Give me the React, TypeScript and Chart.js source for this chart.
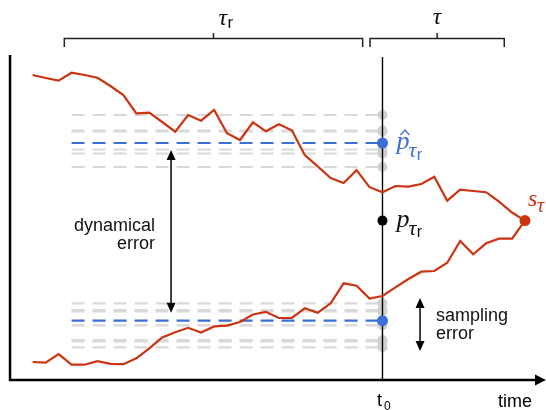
import React, { useEffect, useRef } from "react";
import { Chart, registerables } from "chart.js";
Chart.register(...registerables);

// time steps are the array index (0..38); values measured from the time axis
const upperPath = [305, 302, 299.3, 307.3, 305, 302.3, 294, 285, 266.7, 267.3, 258, 248.3, 265, 259.3, 270, 246.7, 240, 257.7, 248.7, 255.7, 249.7, 225, 213.7, 202, 197, 209.8, 192.8, 187.7, 194, 193.3, 196, 203.3, 179.3, 190.3, 189, 187.8, 178.3, 167.5, 159.4];
const lowerPath = [18, 17.3, 25.8, 15.3, 15.3, 18.8, 16.2, 15.8, 21.7, 31.7, 42.5, 47.7, 52.2, 47.5, 53.6, 54.4, 58, 65.5, 68.2, 62, 62, 71.7, 67.3, 76.7, 96.7, 94.3, 81.5, 84, 92.7, 101, 108.3, 109, 117.3, 139, 125.7, 136.7, 141.3, 141.3, 159.4];
const upperSamples = [265, 249.5, 248.5, 230.5, 226.5, 213];
const lowerSamples = [76.7, 70, 68.5, 54.7, 40, 38.5, 32.7];
const pHatUpper = 237;
const pHatLower = 59.3;
const pTrue = 159.4;
const sampleStart = 3;
const t0 = 27;
const tEnd = 38;
const axisT = -1.75;
const axisTop = 325;

const RED = "#cc3311";
const BLUE = "#3b6fd6";
const GREY_LINE = "#d9d9d9";
const GREY_DOT = "#d0d0d0";

function seg(t1: number, v1: number, t2: number, v2: number) {
  return [{ x: t1, y: v1 }, { x: t2, y: v2 }];
}

const decorPlugin = {
  id: "decor",
  afterDraw(chart: any) {
    const ctx = chart.ctx as CanvasRenderingContext2D;
    const xs = chart.scales.x;
    const ys = chart.scales.y;
    const X = (t: number) => xs.getPixelForValue(t);
    const Y = (v: number) => ys.getPixelForValue(v);
    ctx.save();
    // axes
    ctx.strokeStyle = "#000";
    ctx.fillStyle = "#000";
    ctx.lineWidth = 2.5;
    ctx.lineCap = "butt";
    const ax = X(axisT);
    const ay = Y(0);
    ctx.beginPath();
    ctx.moveTo(ax, Y(axisTop));
    ctx.lineTo(ax, ay + 1.25);
    ctx.moveTo(ax - 1.25, ay);
    ctx.lineTo(537, ay);
    ctx.stroke();
    ctx.beginPath();
    ctx.moveTo(546, ay);
    ctx.lineTo(535, ay - 5.5);
    ctx.lineTo(535, ay + 5.5);
    ctx.closePath();
    ctx.fill();

    // axis labels
    ctx.font = '18px "Liberation Sans", Arial, sans-serif';
    ctx.textBaseline = "alphabetic";
    ctx.textAlign = "left";
    ctx.fillText("t", X(t0) - 5.5, 406);
    ctx.font = '12px "Liberation Sans", Arial, sans-serif';
    ctx.fillText("0", X(t0) + 1.5, 410);
    ctx.font = '18px "Liberation Sans", Arial, sans-serif';
    ctx.textAlign = "center";
    ctx.fillText("time", 515, 407);

    // braces
    ctx.lineWidth = 1.5;
    ctx.strokeStyle = "#222";
    const brace = (x1: number, x2: number) => {
      const y = 38.5;
      ctx.beginPath();
      ctx.moveTo(x1, 47);
      ctx.lineTo(x1, y);
      ctx.lineTo(x2, y);
      ctx.lineTo(x2, 47);
      ctx.moveTo((x1 + x2) / 2, y);
      ctx.lineTo((x1 + x2) / 2, 33);
      ctx.stroke();
    };
    brace(X(2.44), X(25.47));
    brace(X(26.04), X(36.4));

    const serif = '"Liberation Serif", "DejaVu Serif", serif';
    const sans = '"Liberation Sans", Arial, sans-serif';
    const tauR = (x: number, base: number, size: number, rSize: number, color: string) => {
      ctx.fillStyle = color;
      ctx.textAlign = "left";
      ctx.font = `italic ${size}px ${serif}`;
      ctx.fillText("τ", x, base);
      const w = ctx.measureText("τ").width;
      ctx.font = `${rSize}px ${sans}`;
      ctx.fillText("r", x + w + 0.5, base + size * 0.12);
    };
    const pLabel = (v: number, color: string, hat: boolean) => {
      const x = X(t0) + 14;
      const base = Y(v) + 6;
      ctx.fillStyle = color;
      ctx.strokeStyle = color;
      ctx.textAlign = "left";
      ctx.font = `italic 26px ${serif}`;
      ctx.fillText("p", x, base);
      const w = ctx.measureText("p").width;
      if (hat) {
        ctx.lineWidth = 1.2;
        ctx.beginPath();
        ctx.moveTo(x + 4, base - 14);
        ctx.lineTo(x + 8.5, base - 19);
        ctx.lineTo(x + 13, base - 14);
        ctx.stroke();
      }
      tauR(x + w - 1, base + 8, 22, 16, color);
    };

    // top labels
    tauR(X(14.96) - 8, 25, 24, 17, "#111");
    ctx.font = `italic 24px ${serif}`;
    ctx.fillStyle = "#111";
    ctx.textAlign = "center";
    ctx.fillText("τ", X(31.22), 24);

    pLabel(pHatUpper, BLUE, true);
    pLabel(pTrue, "#111", false);
    // s tau
    ctx.fillStyle = RED;
    ctx.textAlign = "left";
    ctx.font = `italic 24px ${serif}`;
    ctx.fillText("s", X(tEnd) + 3, Y(pTrue) - 15);
    ctx.font = `italic 20px ${serif}`;
    ctx.fillText("τ", X(tEnd) + 12, Y(pTrue) - 9);

    // arrows
    const dArrow = (x: number, yTop: number, yBot: number) => {
      ctx.strokeStyle = "#000";
      ctx.fillStyle = "#000";
      ctx.lineWidth = 1.5;
      ctx.beginPath();
      ctx.moveTo(x, yTop + 6);
      ctx.lineTo(x, yBot - 6);
      ctx.stroke();
      ctx.beginPath();
      ctx.moveTo(x, yTop);
      ctx.lineTo(x - 4.5, yTop + 10);
      ctx.lineTo(x + 4.5, yTop + 10);
      ctx.closePath();
      ctx.fill();
      ctx.beginPath();
      ctx.moveTo(x, yBot);
      ctx.lineTo(x - 4.5, yBot - 10);
      ctx.lineTo(x + 4.5, yBot - 10);
      ctx.closePath();
      ctx.fill();
    };
    dArrow(X(10.68), Y(pHatUpper) + 7, Y(pHatLower) - 8);
    dArrow(X(29.9), 298, 351);

    ctx.fillStyle = "#111";
    ctx.font = `18px ${sans}`;
    ctx.textAlign = "right";
    ctx.fillText("dynamical", 155, 231);
    ctx.fillText("error", 155, 249);
    ctx.textAlign = "left";
    ctx.fillText("sampling", 436, 321);
    ctx.fillText("error", 436, 339);
    ctx.restore();
  },
};

export default function App() {
  const ref = useRef<HTMLCanvasElement>(null);
  useEffect(() => {
    const datasets: any[] = [];
    const base = {
      pointRadius: 0,
      tension: 0,
      fill: false,
      showLine: true,
    };
    // points (top)
    datasets.push({
      ...base,
      data: [{ x: t0, y: pHatUpper }, { x: t0, y: pHatLower }],
      showLine: false,
      pointRadius: 5.5,
      pointBackgroundColor: BLUE,
      pointBorderWidth: 0,
      order: 0,
    });
    datasets.push({
      ...base,
      data: [{ x: t0, y: pTrue }],
      showLine: false,
      pointRadius: 5,
      pointBackgroundColor: "#000",
      pointBorderWidth: 0,
      order: 0,
    });
    datasets.push({
      ...base,
      data: [{ x: tEnd, y: upperPath[tEnd] }],
      showLine: false,
      pointRadius: 5.5,
      pointBackgroundColor: RED,
      pointBorderWidth: 0,
      order: 0,
    });
    // red paths
    [upperPath, lowerPath].forEach((p) =>
      datasets.push({
        ...base,
        data: p.map((v, i) => ({ x: i, y: v })),
        borderColor: RED,
        borderWidth: 2.2,
        order: 1,
      })
    );
    // t0 vertical line
    datasets.push({
      ...base,
      data: seg(t0, 0, t0, 323),
      borderColor: "#000",
      borderWidth: 1.4,
      order: 2,
    });
    // blue dashed
    [pHatUpper, pHatLower].forEach((v) =>
      datasets.push({
        ...base,
        data: seg(sampleStart, v, t0, v),
        borderColor: BLUE,
        borderWidth: 2.2,
        borderDash: [13, 8],
        order: 3,
      })
    );
    // grey dots
    datasets.push({
      ...base,
      data: [...upperSamples, ...lowerSamples].map((v) => ({ x: t0, y: v })),
      showLine: false,
      pointRadius: 5,
      pointBackgroundColor: GREY_DOT,
      pointBorderWidth: 0,
      order: 4,
    });
    [...upperSamples, ...lowerSamples].forEach((v) =>
      datasets.push({
        ...base,
        data: seg(sampleStart, v, t0, v),
        borderColor: GREY_LINE,
        borderWidth: 2.2,
        borderDash: [13, 8],
        order: 5,
      })
    );

    const chart = new Chart(ref.current!, {
      type: "line",
      data: { datasets },
      options: {
        responsive: false,
        animation: false,
        events: [],
        layout: { padding: 0, autoPadding: false },
        plugins: { legend: { display: false }, tooltip: { enabled: false } },
        scales: {
          x: { type: "linear", min: -32.7 / 12.955, max: (546 - 32.7) / 12.955, display: false },
          y: { type: "linear", min: -30, max: 380, display: false },
        },
      },
      plugins: [decorPlugin],
    });
    return () => chart.destroy();
  }, []);
  return (
    <div style={{ position: "absolute", left: 0, top: 0, width: 546, height: 410, background: "#fff" }}>
      <canvas ref={ref} width={546} height={410} />
    </div>
  );
}
